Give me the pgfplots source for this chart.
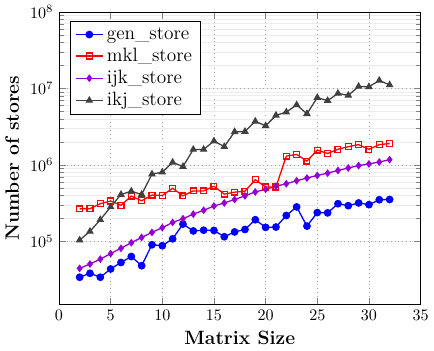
\documentclass[border=0pt]{standalone}
\usepackage{pgfplots}
\pgfplotsset{compat=1.18}
\definecolor{myviolet}{rgb}{0.58,0,0.83}
\definecolor{mygray}{rgb}{0.25,0.25,0.25}
\begin{document}
\begin{tikzpicture}
\begin{axis}[
  scale only axis,
  width=225pt, height=182pt,
  ymode=log,
  xmin=0, xmax=35, ymin=1.5e4, ymax=1e8,
  xtick={0,5,...,35},
  ytick={1e5,1e6,1e7,1e8},
  xmajorgrids, ymajorgrids, yminorgrids,
  major grid style={dotted, gray!70},
  minor grid style={gray!15},
  xlabel={\textbf{Matrix Size}},
  ylabel={\textbf{Number of stores}},
  label style={font=\large},
  legend pos=north west,
  legend cell align=left,
  legend style={font=\large},
]
\addplot[blue, thick, mark=*, mark size=2pt] coordinates {
(2,3.4e4)(3,3.83e4)(4,3.4e4)(5,4.36e4)(6,5.3e4)(7,6.34e4)(8,4.81e4)(9,9.04e4)(10,8.78e4)(11,1.08e5)(12,1.685e5)(13,1.37e5)(14,1.4e5)(15,1.39e5)(16,1.15e5)(17,1.33e5)(18,1.43e5)(19,1.92e5)(20,1.525e5)(21,1.54e5)(22,2.18e5)(23,2.82e5)(24,1.585e5)(25,2.38e5)(26,2.36e5)(27,3.11e5)(28,2.93e5)(29,3.18e5)(30,3.02e5)(31,3.5e5)(32,3.53e5)
};
\addlegendentry{gen\_store}
\addplot[red, thick, mark=square, mark size=1.8pt] coordinates {
(2,2.66e5)(3,2.68e5)(4,3.11e5)(5,3.37e5)(6,2.96e5)(7,3.91e5)(8,3.4e5)(9,4.03e5)(10,3.98e5)(11,4.95e5)(12,3.94e5)(13,4.57e5)(14,4.57e5)(15,5.26e5)(16,4.15e5)(17,4.4e5)(18,4.53e5)(19,6.4e5)(20,5.14e5)(21,5.14e5)(22,1.3e6)(23,1.37e6)(24,1.12e6)(25,1.56e6)(26,1.41e6)(27,1.6e6)(28,1.73e6)(29,1.84e6)(30,1.6e6)(31,1.84e6)(32,1.9e6)
};
\addlegendentry{mkl\_store}
\addplot[myviolet, thick, mark=diamond*, mark size=1.8pt] coordinates {
(2,4.44e4)(3,5.06e4)(4,5.86e4)(5,6.92e4)(6,8.13e4)(7,9.6e4)(8,1.126e5)(9,1.31e5)(10,1.51e5)(11,1.77e5)(12,1.98e5)(13,2.27e5)(14,2.55e5)(15,2.9e5)(16,3.18e5)(17,3.53e5)(18,3.94e5)(19,4.43e5)(20,4.8e5)(21,5.26e5)(22,5.67e5)(23,6.21e5)(24,6.73e5)(25,7.28e5)(26,7.8e5)(27,8.45e5)(28,9.12e5)(29,9.8e5)(30,1.03e6)(31,1.09e6)(32,1.17e6)
};
\addlegendentry{ijk\_store}
\addplot[mygray, thick, mark=triangle*, mark size=2pt] coordinates {
(2,1.04e5)(3,1.35e5)(4,1.92e5)(5,2.82e5)(6,4.1e5)(7,4.53e5)(8,4.1e5)(9,7.57e5)(10,8.03e5)(11,1.08e6)(12,9.5e5)(13,1.59e6)(14,1.59e6)(15,2.05e6)(16,1.73e6)(17,2.71e6)(18,2.73e6)(19,3.71e6)(20,3.24e6)(21,4.44e6)(22,4.9e6)(23,6.08e6)(24,4.66e6)(25,7.57e6)(26,6.92e6)(27,8.6e6)(28,8.1e6)(29,1.06e7)(30,1.05e7)(31,1.27e7)(32,1.11e7)
};
\addlegendentry{ikj\_store}
\end{axis}
\end{tikzpicture}
\end{document}
